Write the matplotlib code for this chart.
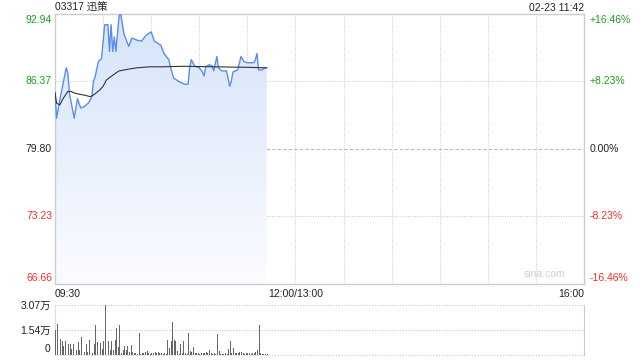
import numpy as np
import matplotlib
matplotlib.use("Agg")
import matplotlib.pyplot as plt
from matplotlib.colors import LinearSegmentedColormap

plt.rcParams['font.family'] = ['Liberation Sans', 'Noto Sans CJK SC', 'DejaVu Sans']

# 数据：分钟（自 09:30 起）与价格
price_min = [0, 1, 3, 7, 8, 9, 12, 14, 16, 18, 21, 23, 24, 25, 27, 29, 31, 33, 34, 35,
             36, 37, 38, 40, 41, 42, 43, 46, 48, 51, 54, 57, 60, 62, 66, 68, 71, 72, 74, 76,
             78, 81, 83, 84, 85, 87, 88, 90, 92, 93, 94, 96, 98, 99, 101, 102, 104, 107, 109, 110,
             111, 114, 116, 118, 120, 124, 125, 126, 127, 129, 131, 132]
price_val = [85.3, 82.8, 84.6, 87.7, 87.2, 85.2, 82.8, 84.7, 83.8, 83.9, 84.3, 84.9, 86.4, 86.8, 88.3, 88.6, 91.9, 91.9, 89.3, 91.9,
             89.3, 90.7, 89.3, 92.8, 92.94, 92.0, 91.0, 89.8, 90.6, 90.4, 90.3, 90.9, 91.2, 90.3, 89.9, 89.1, 88.5, 87.8, 86.7, 86.5,
             86.3, 86.1, 86.1, 87.7, 88.5, 87.9, 87.8, 87.7, 87.3, 86.9, 87.8, 88.0, 87.9, 87.4, 88.8, 87.7, 87.4, 87.4, 85.9, 86.4,
             87.3, 87.5, 88.8, 88.3, 88.2, 88.2, 88.5, 89.1, 87.5, 87.5, 87.7, 87.7]

avg_min = [0, 1, 3, 5, 8, 10, 13, 18, 22, 24, 28, 30, 32, 34, 38, 40, 45, 51, 59, 66, 80, 100, 120, 132]
avg_val = [85.3, 84.25, 84.1, 84.7, 85.4, 85.4, 85.2, 85.05, 84.9, 85.05, 85.55, 85.9, 86.5, 86.75, 87.2, 87.4, 87.55, 87.7,
           87.8, 87.8, 87.85, 87.8, 87.75, 87.7]

# 成交量（万），每分钟一根
volume = [1.52, 1.89, 0.55, 0.94, 0.84, 0.55, 0.84, 1.21, 0.63, 0.63, 0.32, 0.63, 1.27, 0.28, 0.78, 0.28, 1.06, 0.28, 0.18, 0.65,
          0.18, 0.90, 0.24, 0.11, 0.65, 1.83, 0.80, 1.27, 0.73, 0.32, 0.84, 3.07, 1.35, 0.84, 0.28, 0.84, 0.28, 0.90, 1.62, 0.48,
          1.83, 0.11, 0.28, 0.53, 0.28, 0.53, 0.18, 0.59, 0.18, 0.11, 0.07, 0.03, 1.35, 0.03, 0.07, 0.11, 0.18, 0.22, 0.07, 0.02,
          0.11, 0.07, 0.13, 0.07, 0.18, 0.11, 0.07, 0.03, 0.07, 0.03, 0.90, 0.38, 0.84, 2.03, 0.90, 0.84, 0.22, 0.03, 0.65, 0.07,
          0.84, 0.07, 0.03, 1.35, 0.22, 0.18, 0.48, 0.11, 0.11, 0.07, 0.03, 0.07, 0.07, 0.11, 0.18, 0.11, 0.28, 0.07, 0.03, 0.07,
          0.03, 1.27, 0.22, 0.03, 0.03, 0.03, 0.07, 0.03, 0.34, 0.84, 0.11, 0.42, 0.07, 0.07, 0.11, 0.18, 0.18, 0.07, 0.03, 0.07,
          0.11, 0.07, 0.03, 0.07, 0.11, 0.18, 0.28, 1.83, 0.07, 0.03, 0.03, 0.03, 0.02]

prev_close = 79.80
y_ticks = [92.94, 86.37, 79.80, 73.23, 66.66]
pct_labels = ['+16.46%', '+8.23%', '0.00%', '-8.23%', '-16.46%']
vol_ticks = [0, 1.54, 3.07]
vol_labels = ['0', '1.54万', '3.07万']

GREEN = '#1aa01a'
RED = '#f0302a'
GRID = '#c8c8c8'

fig = plt.figure(figsize=(6.4, 3.6), dpi=100)
ax = fig.add_axes([55/640, 1-284/360, 529/640, 270/360])
axv = fig.add_axes([55/640, 1-354.5/360, 529/640, 49.5/360])

# 主图
ax.set_xlim(0, 330)
ax.set_ylim(y_ticks[-1], y_ticks[0])
for s in ax.spines.values():
    s.set_color('#cccccc')
    s.set_linewidth(1)
ax.set_xticks([])
ax.set_yticks([])

for m in range(30, 330, 30):
    ax.axvline(m, color=GRID, lw=0.7, ls=(0, (1, 1.5)), zorder=1)
for v in y_ticks[1:-1]:
    if v == prev_close:
        ax.axhline(v, color='#bbbbbb', lw=0.8, ls=(0, (3, 2)), zorder=1)
    else:
        ax.axhline(v, color=GRID, lw=0.7, ls=(0, (1, 1.5)), zorder=1)

# 渐变填充
poly = ax.fill_between(price_min, price_val, y_ticks[-1], color='none', lw=0)
cmap = LinearSegmentedColormap.from_list('fill', ['#fbfcff', '#d5e3fa'])
grad = np.linspace(0, 1, 256).reshape(-1, 1)
im = ax.imshow(grad, cmap=cmap, aspect='auto', origin='lower',
               extent=[0, price_min[-1], y_ticks[-1], y_ticks[0]], zorder=2)
im.set_clip_path(poly.get_paths()[0], transform=ax.transData)

ax.plot(price_min, price_val, color='#5b8def', lw=1.0, zorder=4)
ax.plot(avg_min, avg_val, color='#333333', lw=0.8, zorder=5)

# 左右刻度文字
n = len(y_ticks)
for i, (v, p) in enumerate(zip(y_ticks, pct_labels)):
    c = GREEN if v > prev_close else (RED if v < prev_close else '#222222')
    off = -6 if i == 0 else (6 if i == n - 1 else 0)
    ax.annotate(f'{v:.2f}', (0, v), xycoords=('axes fraction', 'data'), xytext=(-3, off),
                textcoords='offset pixels', ha='right', va='center', fontsize=7.5, color=c)
    ax.annotate(p, (1, v), xycoords=('axes fraction', 'data'), xytext=(6, off),
                textcoords='offset pixels', ha='left', va='center', fontsize=7.5, color=c)

fig.text(55/640, 1-8/360, '03317 迅策', ha='left', va='center', fontsize=7.5, color='#222222')
fig.text(584/640, 1-8/360, '02-23 11:42', ha='right', va='center', fontsize=7.5, color='#222222')
fig.text(55/640, 1-294/360, '09:30', ha='left', va='center', fontsize=7.5, color='#222222')
fig.text(295.5/640, 1-294/360, '12:00/13:00', ha='center', va='center', fontsize=7.5, color='#222222')
fig.text(584/640, 1-294/360, '16:00', ha='right', va='center', fontsize=7.5, color='#222222')
ax.text(0.925, 0.02, 'sina.com', transform=ax.transAxes, ha='center', va='bottom',
        fontsize=7.5, color='#d0d0d0')

# 成交量
axv.set_xlim(-0.5, 330)
axv.set_ylim(0, vol_ticks[-1])
axv.bar(np.arange(len(volume)), volume, width=0.6, color='#666666', zorder=3)
for s in ['top', 'bottom']:
    axv.spines[s].set_visible(False)
axv.spines['left'].set_color('#dddddd')
axv.spines['right'].set_color('#cccccc')
for v in vol_ticks:
    axv.axhline(v, color=GRID, lw=0.8, ls=(0, (1, 1.5)), zorder=1, clip_on=False)
axv.set_xticks([])
axv.set_yticks(vol_ticks)
axv.set_yticklabels(vol_labels, fontsize=7.5, color='#222222')
axv.tick_params(axis='y', length=0, pad=3)
axv.get_yticklabels()[0].set_va('bottom')

fig.savefig('out.png', dpi=100)
